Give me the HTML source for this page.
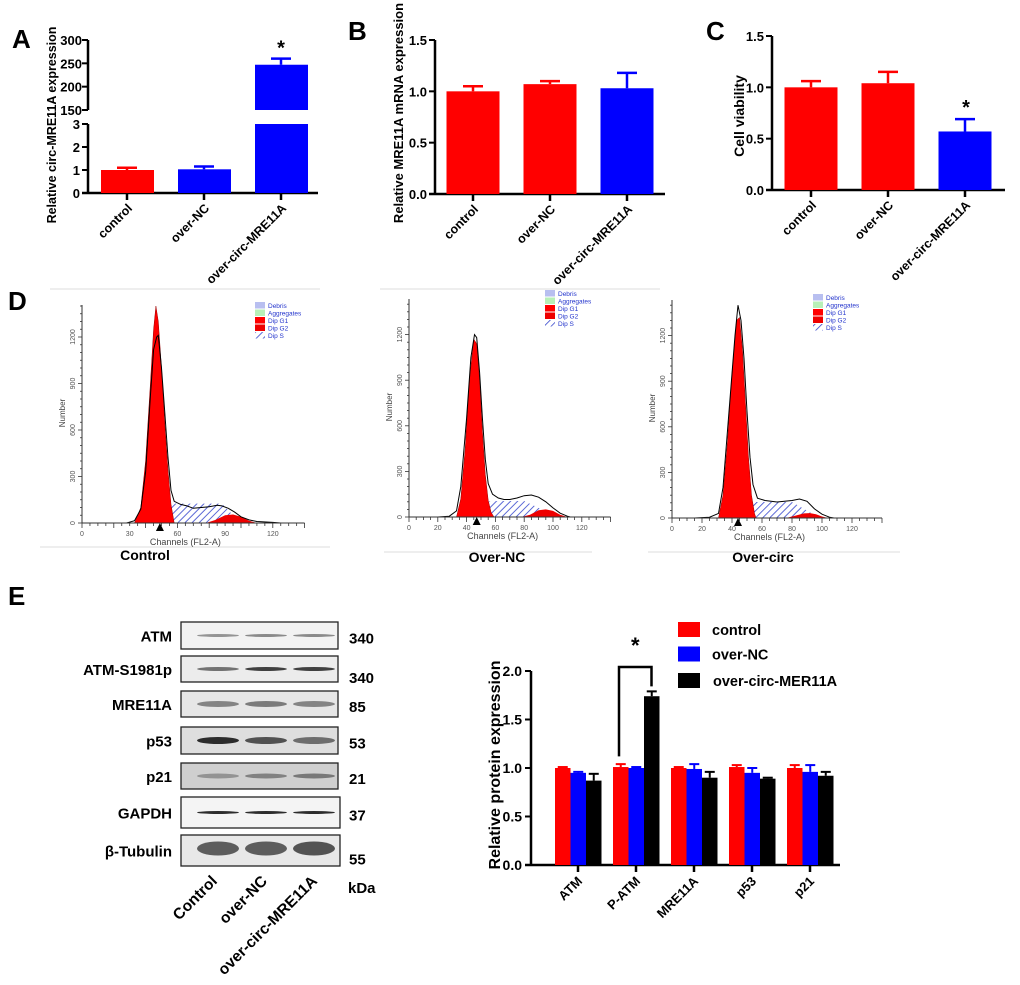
<!DOCTYPE html>
<html><head><meta charset="utf-8"><style>
body{margin:0;background:#fff;}
svg{display:block;font-family:"Liberation Sans",sans-serif;}
</style></head><body>
<svg id="fig" width="1020" height="985" viewBox="0 0 1020 985" xmlns="http://www.w3.org/2000/svg">
<defs>
<pattern id="hatch" width="5" height="5" patternUnits="userSpaceOnUse" patternTransform="rotate(45)"><rect width="5" height="5" fill="#fff"/><line x1="0" y1="0" x2="0" y2="5" stroke="#3344cc" stroke-width="1.6"/></pattern>
</defs>
<g id="root"></g>
</svg>
<script>
// Panel A
const aCats=["control","over-NC","over-circ-MRE11A"];
const aVals=[1.0,1.03,247];
const aErr=[0.1,0.12,13];
const aColors=["#f00","#00f","#00f"];
// Panel B
const bCats=["control","over-NC","over-circ-MRE11A"];
const bVals=[1.0,1.07,1.03];
const bErr=[0.05,0.03,0.15];
const bColors=["#f00","#f00","#00f"];
const bTicks=["0.0","0.5","1.0","1.5"];
// Panel C
const cCats=["control","over-NC","over-circ-MRE11A"];
const cVals=[1.0,1.04,0.57];
const cErr=[0.06,0.11,0.12];
const cColors=["#f00","#f00","#00f"];
// Panel E chart
const eCats=["ATM","P-ATM","MRE11A","p53","p21"];
const eControl=[1.0,1.01,1.0,1.01,1.0];
const eControlErr=[0.01,0.03,0.01,0.02,0.03];
const eOverNC=[0.95,1.0,0.99,0.95,0.96];
const eOverNCErr=[0.01,0.01,0.05,0.05,0.07];
const eOverCirc=[0.87,1.74,0.9,0.89,0.92];
const eOverCircErr=[0.07,0.05,0.06,0.01,0.04];
const eTicks=["0.0","0.5","1.0","1.5","2.0"];
// Flow cytometry (channel, count)
const flowOutline1=[[28,0],[33,15],[37,90],[40,330],[43,820],[45,1120],[47,1200],[48,1210],[50,1000],[52,720],[54,430],[56,210],[58,140],[62,120],[66,110],[70,95],[75,100],[80,105],[85,115],[88,110],[92,95],[96,70],[100,40],[105,20],[110,10],[120,4],[125,0]];
const flowG1_1=[[33,0],[37,100],[40,400],[43,900],[45,1250],[46.5,1400],[48,1300],[50,1000],[52,650],[54,350],[56,120],[58,0]];
const flowG2_1=[[78,0],[84,20],[90,50],[95,55],[100,40],[105,15],[110,0]];
const flowS_1=[[46,0],[50,80],[55,125],[88,125],[95,50],[100,10],[104,0]];
const flowOutline2=[[20,0],[28,5],[33,40],[36,200],[40,650],[43,1050],[45.5,1200],[47,1180],[49,950],[51,650],[53,380],[55,220],[58,150],[62,125],[66,115],[70,115],[75,125],[80,140],[85,145],[90,130],[95,100],[100,60],[105,25],[110,5],[112,0]];
const flowG1_2=[[33,0],[36,120],[39,450],[42,900],[45,1170],[47,1140],[49,900],[51,560],[53,280],[55,110],[57,30],[59,0]];
const flowG2_2=[[78,0],[84,15],[90,45],[95,50],[100,40],[105,15],[110,0]];
const flowS_2=[[48,0],[52,60],[56,105],[80,105],[90,60],[100,15],[104,0]];
const flowOutline3=[[15,0],[25,5],[31,30],[34,200],[38,700],[42,1200],[44,1400],[46,1300],[48,1050],[50,700],[52,400],[54,220],[57,130],[62,115],[70,105],[75,110],[80,115],[85,125],[90,110],[95,60],[100,25],[105,5],[108,0]];
const flowG1_3=[[31,0],[34,150],[37,500],[40,950],[43,1300],[45,1320],[47,1100],[49,750],[51,400],[53,150],[55,30],[56,0]];
const flowG2_3=[[76,0],[82,15],[88,30],[92,32],[96,25],[100,10],[104,0]];
const flowS_3=[[44,0],[48,60],[53,105],[80,105],[88,60],[96,15],[100,0]];
const flowLegend=["Debris","Aggregates","Dip G1","Dip G2","Dip S"];
const flowXTicks=[0,20,40,60,80,100,120];
const blotRows=["ATM","ATM-S1981p","MRE11A","p53","p21","GAPDH","β-Tubulin"];
const blotKda=["340","340","85","53","21","37","55"];
const blotLanes=["Control","over-NC","over-circ-MRE11A"];

const NS="http://www.w3.org/2000/svg";
const root=document.getElementById('root');
function mk(tag,attrs,parent){const e=document.createElementNS(NS,tag);for(const k in attrs)e.setAttribute(k,attrs[k]);(parent||root).appendChild(e);return e;}
function txt(s,attrs,parent){const e=mk('text',attrs,parent);e.textContent=s;return e;}

// panel letters
[["A",12,48],["B",348,40],["C",706,40],["D",8,310],["E",8,605]].forEach(p=>{
  const t=txt(p[0],{x:p[1],y:p[2],'font-size':26,'font-weight':'bold'});
  
  
});

function barPanel(opt){
  const g=mk('g',{});
  
  
  const y=v=>opt.y0-(v/opt.max)*(opt.y0-opt.yTop);
  mk('line',{x1:opt.ax,y1:opt.yTop,x2:opt.ax,y2:opt.y0+1,stroke:'#000','stroke-width':2.5},g);
  mk('line',{x1:opt.ax-6,y1:opt.y0,x2:opt.xEnd,y2:opt.y0,stroke:'#000','stroke-width':2.5},g);
  opt.ticks.forEach((t,i)=>{const v=parseFloat(t);const yy=y(v);
    mk('line',{x1:opt.ax-6,y1:yy,x2:opt.ax,y2:yy,stroke:'#000','stroke-width':2},g);
    const tl=txt(t,{x:opt.ax-8,y:yy+5,'font-size':13,'font-weight':'bold','text-anchor':'end'},g);
    
    
  });
  opt.cats.forEach((c,i)=>{
    const cx=opt.x0+i*opt.step;const v=opt.vals[i];
    const b=mk('rect',{x:cx-opt.bw/2,y:y(v),width:opt.bw,height:opt.y0-y(v),fill:opt.colors[i]},g);
    
    
    const ey=y(v+opt.err[i]);
    mk('line',{x1:cx,y1:ey,x2:cx,y2:y(v),stroke:opt.colors[i],'stroke-width':2.5},g);
    mk('line',{x1:cx-10,y1:ey,x2:cx+10,y2:ey,stroke:opt.colors[i],'stroke-width':2.5},g);
    mk('line',{x1:cx,y1:opt.y0,x2:cx,y2:opt.y0+7,stroke:'#000','stroke-width':2.5},g);
    const l=txt(c,{x:cx+6,y:opt.y0+16,'font-size':12.5,'font-weight':'bold','text-anchor':'end',transform:`rotate(-45 ${cx+6} ${opt.y0+16})`},g);
    
    
  });
  const yl=txt(opt.ylabel,{x:0,y:0,'font-size':opt.yfs||13,'font-weight':'bold','text-anchor':'middle',transform:`translate(${opt.ylx} ${opt.yly}) rotate(-90)`},g);
  
  
  return {g,y};
}

// Panel A (broken axis)
(function(){
  const g=mk('g',{});
  const ax=88,y0=193;
  const yLow=v=>y0-(v/3)*(y0-124);
  const yHigh=v=>110-((v-150)/150)*(110-40);
  mk('line',{x1:ax,y1:40,x2:ax,y2:110,stroke:'#000','stroke-width':2.5},g);
  mk('line',{x1:ax,y1:124,x2:ax,y2:y0+1,stroke:'#000','stroke-width':2.5},g);
  mk('line',{x1:ax-6,y1:y0,x2:318,y2:y0,stroke:'#000','stroke-width':2.5},g);
  [0,1,2,3].forEach(v=>{const yy=yLow(v);mk('line',{x1:ax-6,y1:yy,x2:ax,y2:yy,stroke:'#000','stroke-width':2},g);
    const t=txt(String(v),{x:ax-8,y:yy+5,'font-size':13,'font-weight':'bold','text-anchor':'end'},g);});
  [150,200,250,300].forEach(v=>{const yy=yHigh(v);mk('line',{x1:ax-6,y1:yy,x2:ax,y2:yy,stroke:'#000','stroke-width':2},g);
    const t=txt(String(v),{x:ax-6,y:yy+5,'font-size':13,'font-weight':'bold','text-anchor':'end'},g);});
  aCats.forEach((c,i)=>{
    const cx=127+i*77;const v=aVals[i];const col=aColors[i];
    if(v<=3){
      const b=mk('rect',{x:cx-26,y:yLow(v),width:53,height:y0-yLow(v),fill:col},g);
      
      const ey=yLow(v+aErr[i]);
      mk('line',{x1:cx,y1:ey,x2:cx,y2:yLow(v),stroke:col,'stroke-width':2.5},g);
      mk('line',{x1:cx-10,y1:ey,x2:cx+10,y2:ey,stroke:col,'stroke-width':2.5},g);
    }else{
      const b=mk('rect',{x:cx-26,y:124,width:53,height:y0-124,fill:col},g);
      
      const b2=mk('rect',{x:cx-26,y:yHigh(v),width:53,height:110-yHigh(v),fill:col},g);
      
      const ey=yHigh(v+aErr[i]);
      mk('line',{x1:cx,y1:ey,x2:cx,y2:yHigh(v),stroke:col,'stroke-width':2.5},g);
      mk('line',{x1:cx-10,y1:ey,x2:cx+10,y2:ey,stroke:col,'stroke-width':2.5},g);
      const s=txt('*',{x:cx,y:ey-4,'font-size':20,'font-weight':'bold','text-anchor':'middle'},g);
      
    }
    mk('line',{x1:cx,y1:y0,x2:cx,y2:y0+7,stroke:'#000','stroke-width':2.5},g);
    const l=txt(c,{x:cx+6,y:y0+16,'font-size':12.5,'font-weight':'bold','text-anchor':'end',transform:`rotate(-45 ${cx+6} ${y0+16})`},g);
    
  });
  const yl=txt('Relative circ-MRE11A expression',{x:0,y:0,'font-size':12.5,'font-weight':'bold','text-anchor':'middle',transform:'translate(56 125) rotate(-90)'},g);
  
})();

barPanel({name:'panel-b-chart',ax:435,y0:194,yTop:40,max:1.5,xEnd:665,x0:473,step:77,bw:53,cats:bCats,vals:bVals,err:bErr,colors:bColors,ticks:bTicks,ylabel:'Relative MRE11A mRNA expression',ylx:403,yly:113,yfs:13});
const pc=barPanel({name:'panel-c-chart',ax:772,y0:190,yTop:36,max:1.5,xEnd:1005,x0:811,step:77,bw:53,cats:cCats,vals:cVals,err:cErr,colors:cColors,ticks:bTicks,ylabel:'Cell viability',ylx:744,yly:116,yfs:14});
(function(){const s=txt('*',{x:966,y:pc.y(cVals[2]+cErr[2])-5,'font-size':20,'font-weight':'bold','text-anchor':'middle'},pc.g);})();

// separators
[[50,289,320,289],[380,289,660,289],[40,547,330,547],[384,552,592,552],[648,552,900,552]].forEach(s=>{
  const l=mk('line',{x1:s[0],y1:s[1],x2:s[2],y2:s[3],stroke:'#ddd','stroke-width':1});
  
});

function flowPanel(cfg){
  const g=mk('g',{});
  const X=c=>cfg.ax+c*cfg.k, Y=n=>cfg.y0-n*cfg.ky;
  const path=(pts,close)=>pts.map((p,i)=>(i?'L':'M')+X(p[0]).toFixed(1)+' '+Y(p[1]).toFixed(1)).join(' ')+(close?' Z':'');
  const s=mk('path',{d:path(cfg.S,true),fill:'url(#hatch)',stroke:'none'},g);
  const g1=mk('path',{d:path(cfg.G1,true),fill:'#f00',stroke:'#900','stroke-width':0.5},g);
  const g2=mk('path',{d:path(cfg.G2,true),fill:'#e00',stroke:'none'},g);
  const ol=mk('path',{d:path(cfg.O,false),fill:'none',stroke:'#000','stroke-width':1},g);
  mk('line',{x1:cfg.ax,y1:cfg.y0-218,x2:cfg.ax,y2:cfg.y0,stroke:'#333','stroke-width':1},g);
  mk('line',{x1:cfg.ax,y1:cfg.y0,x2:cfg.ax+140*cfg.k,y2:cfg.y0,stroke:'#333','stroke-width':1},g);
  for(let c=0;c<=140;c+=5){mk('line',{x1:X(c),y1:cfg.y0,x2:X(c),y2:cfg.y0+(c%20?3:5),stroke:'#333','stroke-width':0.8},g);}
  for(let n=0;n<=1400;n+=50){mk('line',{x1:cfg.ax-(n%300?2:4),y1:Y(n),x2:cfg.ax,y2:Y(n),stroke:'#333','stroke-width':0.8},g);}
  cfg.xt.forEach(t=>{const e=txt(String(t),{x:X(t),y:cfg.y0+13,'font-size':7,fill:'#555','text-anchor':'middle'},g);});
  [0,300,600,900,1200].forEach(n=>{const e=txt(String(n),{x:0,y:0,'font-size':7,fill:'#555','text-anchor':'middle',transform:`translate(${cfg.ax-7} ${Y(n)}) rotate(-90)`},g);});
  mk('path',{d:`M${X(cfg.mark)-4} ${cfg.y0+8} L${X(cfg.mark)+4} ${cfg.y0+8} L${X(cfg.mark)} ${cfg.y0} Z`,fill:'#000'},g);
  const xt=txt('Channels (FL2-A)',{x:cfg.ax+65*cfg.k,y:cfg.y0+22,'font-size':9,fill:'#444','text-anchor':'middle'},g);
  const yt=txt('Number',{x:0,y:0,'font-size':8,fill:'#444','text-anchor':'middle',transform:`translate(${cfg.ax-17} ${cfg.y0-110}) rotate(-90)`},g);
  const fills=['#b8bff0','#b8f0b8','#f00','#e00','url(#hatch)'];
  flowLegend.forEach((L,i)=>{const yy=cfg.ly+i*7.5;
    mk('rect',{x:cfg.lx,y:yy,width:10,height:6.5,fill:fills[i]},g);
    const e=txt(L,{x:cfg.lx+13,y:yy+6,'font-size':6.5,fill:'#2233cc'},g);});
  const cap=txt(cfg.cap,{x:cfg.capx,y:cfg.capy,'font-size':14,'font-weight':'bold','text-anchor':'middle'},g);
}
flowPanel({name:'flow-control',ax:82,y0:523,k:1.59,ky:0.155,O:flowOutline1,G1:flowG1_1,G2:flowG2_1,S:flowS_1,xt:[0,30,60,90,120],mark:49,lx:255,ly:302,cap:'Control',capx:145,capy:560});
flowPanel({name:'flow-over-nc',ax:409,y0:517,k:1.44,ky:0.152,O:flowOutline2,G1:flowG1_2,G2:flowG2_2,S:flowS_2,xt:flowXTicks,mark:47,lx:545,ly:290,cap:'Over-NC',capx:497,capy:562});
flowPanel({name:'flow-over-circ',ax:672,y0:518,k:1.5,ky:0.152,O:flowOutline3,G1:flowG1_3,G2:flowG2_3,S:flowS_3,xt:flowXTicks,mark:44,lx:813,ly:294,cap:'Over-circ',capx:763,capy:562});

// Western blot
(function(){
  const g=mk('g',{});
  const rowsY=[[622,649],[656,682],[691,717],[727,754],[763,789],[797,828],[835,866]];
  const bgs=['#f2f2f2','#ececec','#e6e6e6','#dedede','#cfcfcf','#f4f4f4','#e8e8e8'];
  const bandI=[[0.45,0.5,0.5],[0.6,0.85,0.85],[0.5,0.55,0.5],[0.95,0.75,0.6],[0.35,0.45,0.5],[0.95,0.95,0.95],[0.7,0.7,0.75]];
  const bandH=[3,4,6,7,5,3,14];
  blotRows.forEach((r,i)=>{
    const [t,b]=rowsY[i];const x0=181,x1=i>=5?340:338;
    const box=mk('rect',{x:x0,y:t,width:x1-x0,height:b-t,fill:bgs[i],stroke:'#222','stroke-width':1.3},g);
    
    [0,1,2].forEach(j=>{const cx=x0+37+j*48;const op=bandI[i][j];
      mk('ellipse',{cx:cx,cy:(t+b)/2+(i==6?-2:0),rx:21,ry:bandH[i]/2,fill:'#222','fill-opacity':op},g);});
    const l=txt(r,{x:172,y:(t+b)/2+6,'font-size':15,'font-weight':'bold','text-anchor':'end'},g);
    const k=txt(blotKda[i],{x:349,y:(t+b)/2+8+(i==1||i==6?6:0),'font-size':15,'font-weight':'bold'},g);
  });
  const kd=txt('kDa',{x:348,y:893,'font-size':15,'font-weight':'bold'},g);
  blotLanes.forEach((L,j)=>{const x=218+j*50,y=882;
    const e=txt(L,{x:x,y:y,'font-size':15.5,'font-weight':'bold','text-anchor':'end',transform:`rotate(-45 ${x} ${y})`},g);});
})();

// Panel E bar chart
(function(){
  const g=mk('g',{});
  const ax=531,y0=865,yTop=671,max=2;
  const y=v=>y0-(v/max)*(y0-yTop);
  mk('line',{x1:ax,y1:yTop,x2:ax,y2:y0+1,stroke:'#000','stroke-width':2.5},g);
  mk('line',{x1:ax-6,y1:y0,x2:840,y2:y0,stroke:'#000','stroke-width':2.5},g);
  eTicks.forEach(t=>{const yy=y(parseFloat(t));mk('line',{x1:ax-6,y1:yy,x2:ax,y2:yy,stroke:'#000','stroke-width':2},g);
    const e=txt(t,{x:ax-9,y:yy+5,'font-size':14,'font-weight':'bold','text-anchor':'end'},g);});
  const series=[[eControl,eControlErr,'#f00','control'],[eOverNC,eOverNCErr,'#00f','over-NC'],[eOverCirc,eOverCircErr,'#000','over-circ']];
  eCats.forEach((c,i)=>{
    const cx=578+i*58;
    series.forEach((s,j)=>{const v=s[0][i];const bx=cx-23+j*15.5;
      const b=mk('rect',{x:bx,y:y(v),width:15.5,height:y0-y(v),fill:s[2]},g);
      
      const ey=y(v+s[1][i]);const mx=bx+7.75;
      mk('line',{x1:mx,y1:ey,x2:mx,y2:y(v),stroke:s[2],'stroke-width':2},g);
      mk('line',{x1:mx-5,y1:ey,x2:mx+5,y2:ey,stroke:s[2],'stroke-width':2},g);
    });
    mk('line',{x1:cx,y1:y0,x2:cx,y2:y0+7,stroke:'#000','stroke-width':2.5},g);
    const l=txt(c,{x:cx+5,y:y0+17,'font-size':13,'font-weight':'bold','text-anchor':'end',transform:`rotate(-45 ${cx+5} ${y0+17})`},g);
    
  });
  const lx=578+58-17, rx=578+58+15.5;
  const top=y(2.0)-4;
  const br=mk('path',{d:`M${lx} ${y(1.12)} L${lx} ${top} L${rx} ${top} L${rx} ${y(eOverCirc[1]+eOverCircErr[1])-5}`,fill:'none',stroke:'#000','stroke-width':2.5},g);
  
  const st=txt('*',{x:(lx+rx)/2,y:top-14,'font-size':22,'font-weight':'bold','text-anchor':'middle'},g);
  const yl=txt('Relative protein expression',{x:0,y:0,'font-size':16,'font-weight':'bold','text-anchor':'middle',transform:'translate(500 765) rotate(-90)'},g);
  
  series.forEach((s,j)=>{const yy=622+j*24.5+(j==2?2:0);
    mk('rect',{x:678,y:yy,width:22,height:15,fill:s[2]},g);
    const e=txt(j==2?'over-circ-MER11A':s[3],{x:712+(j==2?1:0),y:yy+13,'font-size':14.5,'font-weight':'bold'},g);
    });
})();
</script>
</body></html>
